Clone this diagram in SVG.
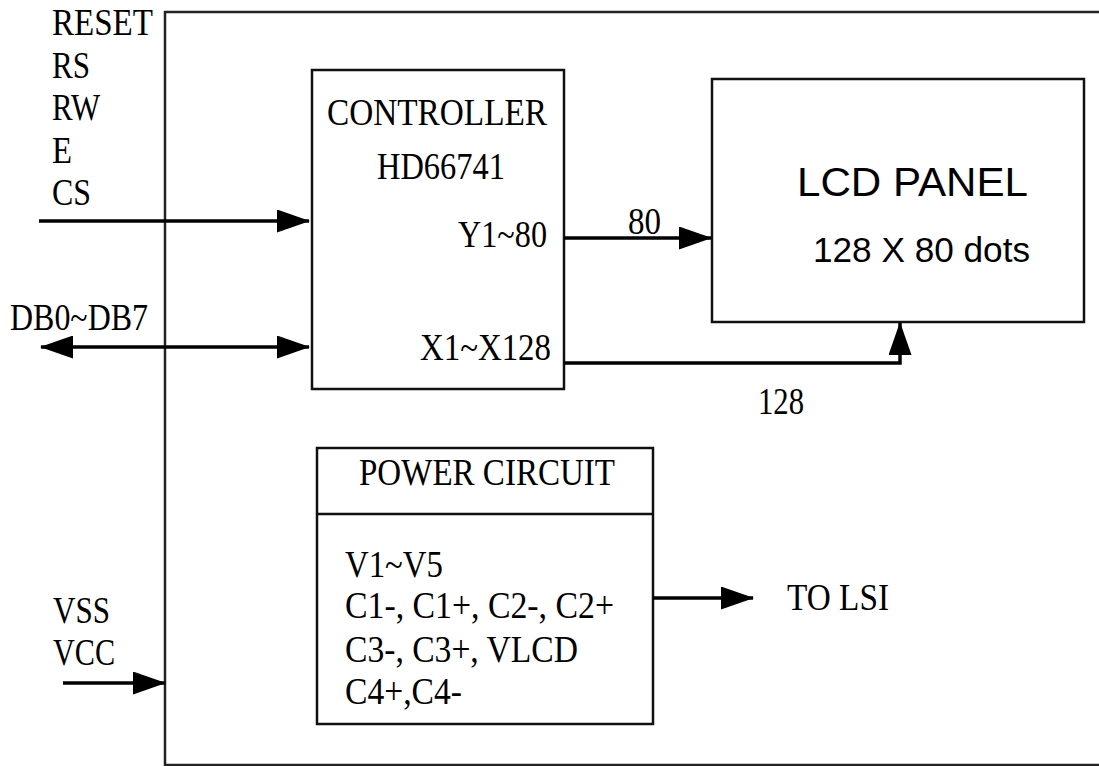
<svg xmlns="http://www.w3.org/2000/svg" width="1099" height="766" viewBox="0 0 1099 766">
<style>
.box{fill:none;stroke:#111;stroke-width:2.5}
.frame{fill:none;stroke:#222;stroke-width:2.5}
.wire{fill:none;stroke:#000;stroke-width:3.5}
.t{font-family:"Liberation Serif","Times New Roman",serif;font-size:37px;fill:#000}
.s{font-family:"Liberation Sans",Arial,sans-serif;fill:#000}
</style>
<defs>
<marker id="ah" markerUnits="userSpaceOnUse" markerWidth="33" markerHeight="23" refX="32" refY="11.5" orient="auto-start-reverse" viewBox="0 0 33 23">
<path d="M0,0 L33,11.5 L0,23 z" fill="#000"/>
</marker>
</defs>
<path id="frame" class="frame" d="M1110,12 H165 V765 H1110"/>
<g id="signals-left">
<text class="t" x="52" y="35" textLength="101" lengthAdjust="spacingAndGlyphs">RESET</text>
<text class="t" x="52" y="78" textLength="38" lengthAdjust="spacingAndGlyphs">RS</text>
<text class="t" x="52" y="120" textLength="48" lengthAdjust="spacingAndGlyphs">RW</text>
<text class="t" x="52" y="163" textLength="20" lengthAdjust="spacingAndGlyphs">E</text>
<text class="t" x="52" y="205" textLength="39" lengthAdjust="spacingAndGlyphs">CS</text>
<text class="t" x="10" y="330" textLength="138" lengthAdjust="spacingAndGlyphs">DB0~DB7</text>
<text class="t" x="53" y="623" textLength="57" lengthAdjust="spacingAndGlyphs">VSS</text>
<text class="t" x="53" y="665" textLength="62" lengthAdjust="spacingAndGlyphs">VCC</text>
</g>
<g id="controller">
<rect class="box" x="312" y="70" width="252" height="319"/>
<text class="t" x="327" y="125" textLength="220" lengthAdjust="spacingAndGlyphs">CONTROLLER</text>
<text class="t" x="377" y="179" textLength="128" lengthAdjust="spacingAndGlyphs">HD66741</text>
<text class="t" x="458" y="247" textLength="89" lengthAdjust="spacingAndGlyphs">Y1~80</text>
<text class="t" x="420" y="360" textLength="131" lengthAdjust="spacingAndGlyphs">X1~X128</text>
</g>
<g id="lcd-panel">
<rect class="box" x="712" y="79" width="372" height="243"/>
<text class="s" x="797" y="196" font-size="40" textLength="231" lengthAdjust="spacingAndGlyphs">LCD PANEL</text>
<text class="s" x="813" y="262" font-size="35" textLength="217" lengthAdjust="spacingAndGlyphs">128 X 80 dots</text>
</g>
<g id="power-circuit">
<rect class="box" x="317" y="448" width="336" height="276"/>
<line class="box" x1="317" y1="514" x2="653" y2="514"/>
<text class="t" x="359" y="485" textLength="256" lengthAdjust="spacingAndGlyphs">POWER CIRCUIT</text>
<text class="t" x="345" y="577" textLength="98" lengthAdjust="spacingAndGlyphs">V1~V5</text>
<text class="t" x="345" y="618" textLength="269" lengthAdjust="spacingAndGlyphs">C1-, C1+, C2-, C2+</text>
<text class="t" x="345" y="662" textLength="233" lengthAdjust="spacingAndGlyphs">C3-, C3+, VLCD</text>
<text class="t" x="345" y="704" textLength="117" lengthAdjust="spacingAndGlyphs">C4+,C4-</text>
</g>
<g id="connectors">
<line class="wire" x1="39" y1="221" x2="309" y2="221" marker-end="url(#ah)"/>
<line class="wire" x1="41" y1="347" x2="309" y2="347" marker-start="url(#ah)" marker-end="url(#ah)"/>
<line class="wire" x1="564" y1="238" x2="711" y2="238" marker-end="url(#ah)"/>
<path class="wire" d="M564,363 H900 V323" marker-end="url(#ah)"/>
<line class="wire" x1="653" y1="598" x2="753" y2="598" marker-end="url(#ah)"/>
<line class="wire" x1="63" y1="683" x2="165" y2="683" marker-end="url(#ah)"/>
<text class="t" x="628" y="234" textLength="33" lengthAdjust="spacingAndGlyphs">80</text>
<text class="t" x="758" y="414" textLength="46" lengthAdjust="spacingAndGlyphs">128</text>
<text class="t" x="787" y="610" textLength="102" lengthAdjust="spacingAndGlyphs">TO LSI</text>
</g>
</svg>
